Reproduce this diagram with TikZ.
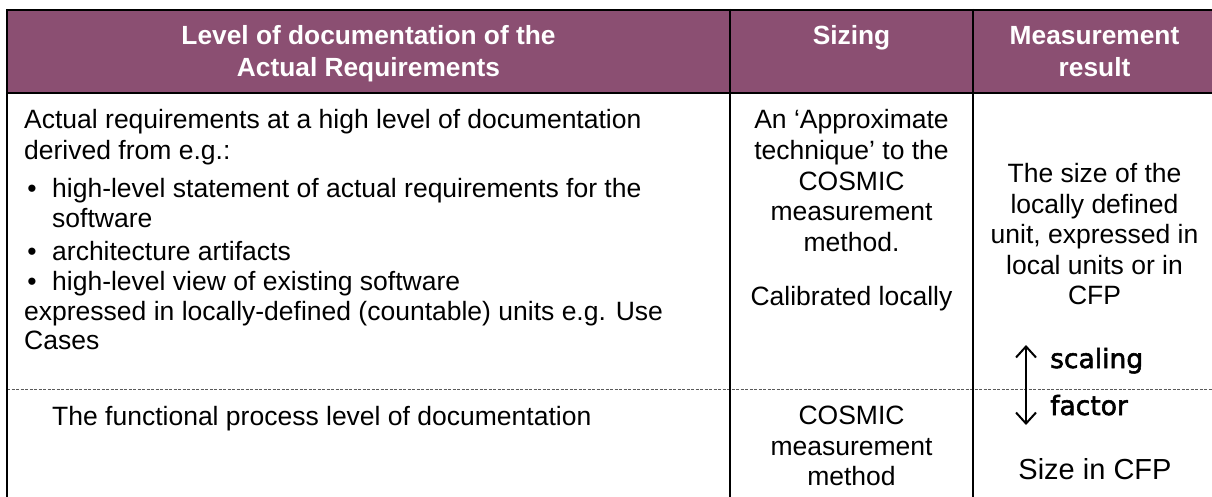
\documentclass[tikz,border=0pt]{standalone}
\usepackage{fontspec}
\setmainfont{Liberation Sans}
\newfontfamily\sclfont[FakeBold=2]{DejaVu Sans}
\usetikzlibrary{arrows.meta}
\definecolor{headpurple}{RGB}{139,79,114}
\definecolor{dashgray}{RGB}{90,90,90}
\tikzset{
  bodytxt/.style={font=\fontsize{26.5}{30.5}\selectfont, inner sep=0pt, text=black},
  headtxt/.style={font=\fontsize{26.3}{32}\selectfont\bfseries, inner sep=0pt, text=white},
  bigtxt/.style={font=\fontsize{29}{33}\selectfont, inner sep=0pt, text=black},
  scaletxt/.style={font=\sclfont\fontsize{26.5}{30}\selectfont, inner sep=0pt, text=black},
  rule/.style={line width=2pt, black},
  dashrule/.style={line width=1pt, dashgray, dash pattern=on 3pt off 1.5pt},
  arrowline/.style={line width=2pt, black, {Straight Barb[length=11pt,width=20pt,line width=2pt]}-{Straight Barb[length=11pt,width=20pt,line width=2pt]}}
}
\begin{document}
\begin{tikzpicture}[x=1pt,y=-1pt]
\useasboundingbox (0,0) rectangle (1212,497);
\clip (0,0) rectangle (1212,497);
\fill[white] (0,0) rectangle (1212,497);
% header band
\fill[headpurple] (7,10) rectangle (1216,93);
% dashed separator
\draw[dashrule] (7,389) -- (1216,389);
% table rules
\draw[rule] (7,10) -- (1216,10);
\draw[rule] (7,93) -- (1216,93);
\draw[rule] (7,9) -- (7,500);
\draw[rule] (730,9) -- (730,500);
\draw[rule] (973,9) -- (973,500);
\draw[rule] (1216,9) -- (1216,500);
% header texts
\node[headtxt, anchor=base] (h1a) at (368.5,45) {Level of documentation of the};
\node[headtxt, anchor=base] (h1b) at (368.5,77) {Actual Requirements};
\node[headtxt, anchor=base] (h2) at (851.5,45) {Sizing};
\node[headtxt, anchor=base] (h3a) at (1094.5,45) {Measurement};
\node[headtxt, anchor=base] (h3b) at (1094.5,77) {result};
% left column, upper row
\node[bodytxt, anchor=base west] (l1) at (24,129) {Actual requirements at a high level of documentation};
\node[bodytxt, anchor=base west] (l2) at (24,159.5) {derived from e.g.:};
\node[bodytxt, anchor=base] (d1) at (32,197) {•};
\node[bodytxt, anchor=base west] (b1) at (52,197) {high-level statement of actual requirements for the};
\node[bodytxt, anchor=base west] (b1b) at (52,227.5) {software};
\node[bodytxt, anchor=base] (d2) at (32,260) {•};
\node[bodytxt, anchor=base west] (b2) at (52,260) {architecture artifacts};
\node[bodytxt, anchor=base] (d3) at (32,290.5) {•};
\node[bodytxt, anchor=base west] (b3) at (52,290.5) {high-level view of existing software};
\node[bodytxt, anchor=base west] (l3) at (24,320) {expressed in locally-defined (countable) units e.g. Use};
\node[bodytxt, anchor=base west] (l4) at (24,349) {Cases};
% left column, lower row
\node[bodytxt, anchor=base west] (fp) at (52,425) {The functional process level of documentation};
% sizing column
\node[bodytxt, anchor=base] (s1) at (851.5,129) {An ‘Approximate};
\node[bodytxt, anchor=base] (s2) at (851.5,159.5) {technique’ to the};
\node[bodytxt, anchor=base] (s3) at (851.5,190) {COSMIC};
\node[bodytxt, anchor=base] (s4) at (851.5,220.5) {measurement};
\node[bodytxt, anchor=base] (s5) at (851.5,251) {method.};
\node[bodytxt, anchor=base] (s6) at (851.5,305) {Calibrated locally};
\node[bodytxt, anchor=base] (t1) at (851.5,424.5) {COSMIC};
\node[bodytxt, anchor=base] (t2) at (851.5,455) {measurement};
\node[bodytxt, anchor=base] (t3) at (851.5,485.5) {method};
% measurement result column
\node[bodytxt, anchor=base] (m1) at (1094.5,182.5) {The size of the};
\node[bodytxt, anchor=base] (m2) at (1094.5,213) {locally defined};
\node[bodytxt, anchor=base] (m3) at (1094.5,243.5) {unit, expressed in};
\node[bodytxt, anchor=base] (m4) at (1094.5,274) {local units or in};
\node[bodytxt, anchor=base] (m5) at (1094.5,304.5) {CFP};
\node[scaletxt, anchor=base west] (sc) at (1050,368) {scaling};
\node[scaletxt, anchor=base west] (fa) at (1050,415) {factor};
\node[bigtxt, anchor=base] (cfp) at (1095,479) {Size in CFP};
% scaling arrow
\coordinate (atop) at (1026,345);
\coordinate (abot) at (1026,425);
\draw[arrowline] (atop) -- (abot);
\end{tikzpicture}
\end{document}
